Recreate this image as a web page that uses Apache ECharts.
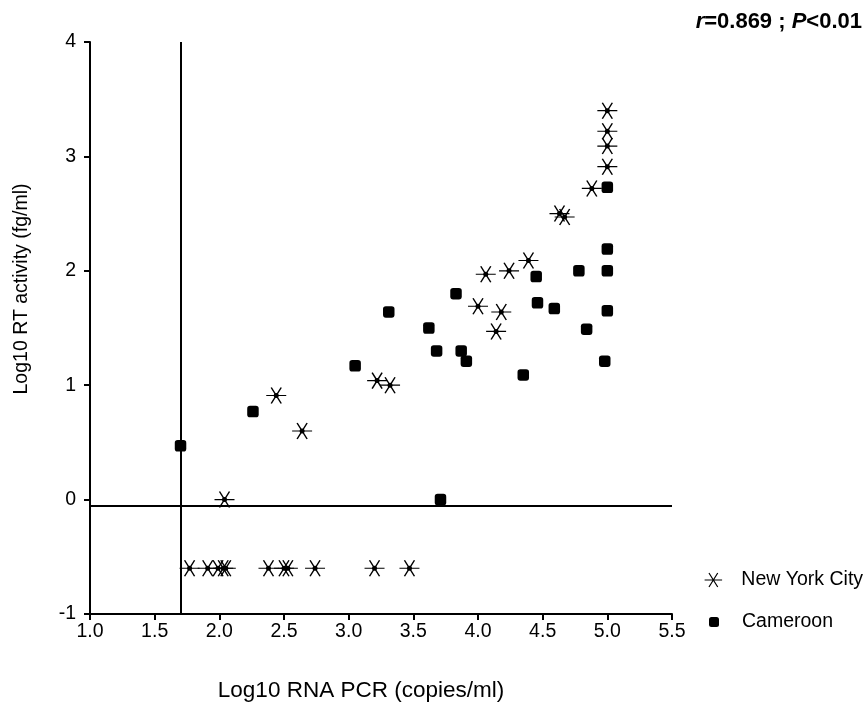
<!DOCTYPE html>
<html>
<head>
<meta charset="utf-8">
<script src="https://cdn.jsdelivr.net/npm/echarts@6/dist/echarts.min.js"></script>
<style>
html,body{margin:0;padding:0;background:#fff;}
#chart{width:865px;height:713px;}
</style>
</head>
<body>
<div id="chart"></div>
<script>
// Data
const nycX = [1.77, 1.91, 1.99, 2.03, 2.05, 2.38, 2.50, 2.53, 2.74, 3.20, 3.47,
              2.04, 2.44, 2.64, 3.22, 3.32, 4.00, 4.06, 4.14, 4.18, 4.24, 4.39, 4.63, 4.67, 4.88, 5.00, 5.00, 5.00, 5.00];
const nycY = [-0.60, -0.60, -0.60, -0.60, -0.60, -0.60, -0.60, -0.60, -0.60, -0.60, -0.60,
              0.00, 0.91, 0.60, 1.04, 1.00, 1.69, 1.97, 1.47, 1.64, 2.00, 2.09, 2.50, 2.47, 2.72, 2.91, 3.09, 3.22, 3.40];
const camX = [1.70, 2.26, 3.05, 3.31, 3.62, 3.68, 3.71, 3.83, 3.87, 3.91, 4.35, 4.45, 4.46, 4.59, 4.78, 4.84, 4.98, 5.00, 5.00, 5.00, 5.00];
const camY = [0.47, 0.77, 1.17, 1.64, 1.50, 1.30, 0.00, 1.80, 1.30, 1.21, 1.09, 1.95, 1.72, 1.67, 2.00, 1.49, 1.21, 1.65, 2.00, 2.19, 2.73];
const refX = 1.70;   // detection limit, RNA PCR
const refY = -0.05;  // detection limit, RT activity
const xTickMin = 1.0, xTickMax = 5.5, xTickStep = 0.5;
const yTickMin = -1, yTickMax = 4, yTickStep = 1;
const seriesNames = ['New York City', 'Cameroon'];
const statText = ['r', '=0.869 ; ', 'P', '<0.01'];

const FONT = '"Liberation Sans", Arial, Helvetica, sans-serif';
const ASTERISK = 'path://M0,8L20,8M5,0L15,16M5,16L15,0';

const nycData = nycX.map((x, i) => [x, nycY[i]]);
const camData = camX.map((x, i) => [x, camY[i]]);

const chart = echarts.init(document.getElementById('chart'), null, {renderer: 'canvas'});
chart.setOption({
  animation: false,
  backgroundColor: '#fff',
  title: {
    right: 3, top: 11, padding: 0,
    text: '{i|' + statText[0] + '}{n|' + statText[1] + '}{i|' + statText[2] + '}{n|' + statText[3] + '}',
    textStyle: {
      rich: {
        i: {fontFamily: FONT, fontSize: 22, fontWeight: 'bold', fontStyle: 'italic', color: '#000'},
        n: {fontFamily: FONT, fontSize: 22, fontWeight: 'bold', color: '#000'}
      }
    }
  },
  grid: {left: 90, right: 193, top: 42, bottom: 99, containLabel: false},
  legend: [
    {
      data: [{name: seriesNames[0], icon: ASTERISK}],
      left: 699, top: 565, orient: 'vertical',
      itemWidth: 18, itemHeight: 14,
      itemStyle: {color: '#000', borderColor: '#000', borderWidth: 1.2},
      textStyle: {fontFamily: FONT, fontSize: 19.5, color: '#000', padding: [0, 0, 0, 14]},
      selectedMode: false
    },
    {
      data: [{name: seriesNames[1], icon: 'roundRect'}],
      left: 704, top: 607, orient: 'vertical',
      itemWidth: 10, itemHeight: 10,
      textStyle: {fontFamily: FONT, fontSize: 19.5, color: '#000', padding: [0, 0, 0, 18]},
      selectedMode: false
    }
  ],
  xAxis: {
    type: 'value', min: xTickMin, max: xTickMax, interval: xTickStep,
    name: 'Log10 RNA PCR (copies/ml)', nameLocation: 'middle', nameGap: 65,
    nameTextStyle: {fontFamily: FONT, fontSize: 22.5, color: '#000', padding: [0, 40, 0, 0]},
    axisLine: {show: true, onZero: false, lineStyle: {color: '#000', width: 2}},
    axisTick: {show: true, length: 6, lineStyle: {color: '#000', width: 2}},
    axisLabel: {fontFamily: FONT, fontSize: 19.5, color: '#000', margin: 8,
      formatter: v => v.toFixed(1)},
    splitLine: {show: false}
  },
  yAxis: {
    type: 'value', min: yTickMin, max: yTickMax, interval: yTickStep,
    name: 'Log10 RT activity (fg/ml)', nameLocation: 'middle', nameGap: 58,
    nameTextStyle: {fontFamily: FONT, fontSize: 19.5, color: '#000', padding: [0, 0, 0, 78]},
    axisLine: {show: true, onZero: false, lineStyle: {color: '#000', width: 2}},
    axisTick: {show: true, length: 6, lineStyle: {color: '#000', width: 2}},
    axisLabel: {fontFamily: FONT, fontSize: 19.5, color: '#000', margin: 14},
    splitLine: {show: false}
  },
  series: [
    {
      name: 'refLines', type: 'scatter', data: [], silent: true,
      markLine: {
        silent: true, symbol: 'none', animation: false,
        label: {show: false},
        lineStyle: {color: '#000', width: 2, type: 'solid'},
        emphasis: {disabled: true},
        data: [{xAxis: refX}, {yAxis: refY}]
      }
    },
    {
      name: seriesNames[1], type: 'scatter', data: camData,
      symbol: 'roundRect', symbolSize: 11.5,
      itemStyle: {color: '#000', opacity: 1}
    },
    {
      name: seriesNames[0], type: 'scatter', data: nycData,
      symbol: ASTERISK, symbolSize: [20, 16],
      itemStyle: {color: '#000', borderColor: '#000', borderWidth: 1.3, opacity: 1}
    },
    {
      name: 'nycCentres', type: 'scatter', data: nycData, silent: true,
      symbol: 'circle', symbolSize: 5,
      itemStyle: {color: '#000', opacity: 1}
    }
  ]
});
</script>
</body>
</html>
